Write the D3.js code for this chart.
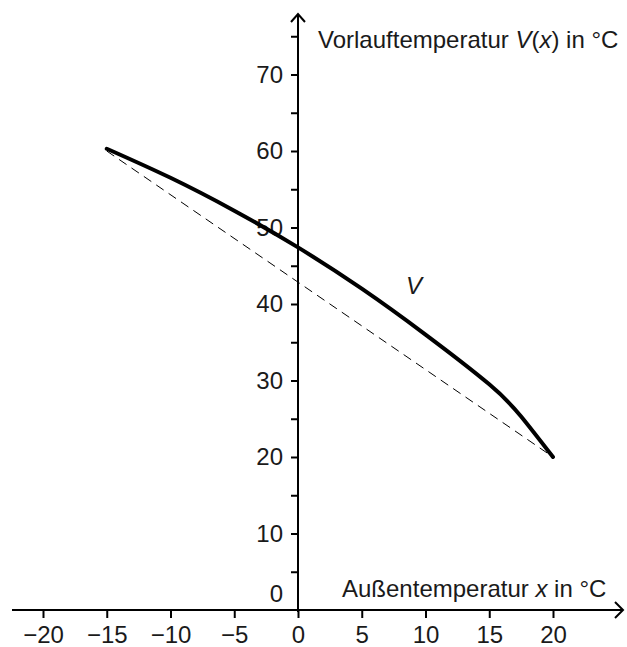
<!DOCTYPE html>
<html>
<head>
<meta charset="utf-8">
<script src="https://cdn.jsdelivr.net/npm/d3@7"></script>
<style>
  body { margin: 0; background: #fff; }
  svg { display: block; }
  text { font-family: "Liberation Sans", Arial, sans-serif; fill: #1a1a1a; }
</style>
</head>
<body>
<svg></svg>
<script>
// data
const curveX = [-15, -10, -5, 0, 5, 10, 15, 17.5, 20];
const curveV = [60.3, 56.5, 52.2, 47.4, 42.0, 36.0, 29.5, 25.3, 20];
const secantX = [-15, 20];
const secantV = [60, 20];
const xTicks = [-20, -15, -10, -5, 0, 5, 10, 15, 20];
const yTicks = [5, 10, 15, 20, 25, 30, 35, 40, 45, 50, 55, 60, 65, 70, 75];

const WIDTH = 627, HEIGHT = 647;
const FONT_SIZE = 24;

const svg = d3.select('svg').attr('width', WIDTH).attr('height', HEIGHT);

const x = d3.scaleLinear().domain([-20, 20]).range([43, 553]);
const y = d3.scaleLinear().domain([0, 70]).range([610, 74.5]);

// x axis ticks + labels
const xAxis = svg.append('g')
    .attr('transform', `translate(0,${y(0)})`)
    .call(d3.axisBottom(x).tickValues(xTicks).tickSize(8).tickPadding(8));
xAxis.select('.domain').remove();
xAxis.selectAll('line').attr('stroke', '#000').attr('stroke-width', 2);
xAxis.selectAll('text')
    .style('font-size', FONT_SIZE + 'px')
    .style('font-family', '"Liberation Sans", Arial, sans-serif')
    .attr('fill', '#1a1a1a');

// y axis ticks + labels
const yAxis = svg.append('g')
    .attr('transform', `translate(${x(0)},0)`)
    .call(d3.axisLeft(y).tickValues(yTicks).tickSize(7).tickPadding(8)
        .tickFormat(d => d % 10 === 0 ? d : ''));
yAxis.select('.domain').remove();
yAxis.selectAll('line').attr('stroke', '#000').attr('stroke-width', 2);
yAxis.selectAll('text')
    .style('font-size', FONT_SIZE + 'px')
    .style('font-family', '"Liberation Sans", Arial, sans-serif')
    .attr('fill', '#1a1a1a');

// lone "0" above the x axis
svg.append('text')
    .attr('x', x(0) - 15)
    .attr('y', y(0) - 8)
    .attr('text-anchor', 'end')
    .style('font-size', FONT_SIZE + 'px')
    .text('0');

// axis lines with open arrow heads
const axisGroup = svg.append('g').attr('stroke', '#000').attr('stroke-width', 2).attr('fill', 'none');
axisGroup.append('line')
    .attr('x1', 12).attr('x2', 623)
    .attr('y1', y(0)).attr('y2', y(0));
axisGroup.append('path')
    .attr('d', `M${623 - 8},${y(0) - 8} L623,${y(0)} L${623 - 8},${y(0) + 8}`);
axisGroup.append('line')
    .attr('x1', x(0)).attr('x2', x(0))
    .attr('y1', y(0) + 2).attr('y2', 14);
axisGroup.append('path')
    .attr('d', `M${x(0) - 7},${14 + 8} L${x(0)},14 L${x(0) + 7},${14 + 8}`);

// axis titles
const yTitle = svg.append('text')
    .attr('x', 318).attr('y', 48)
    .style('font-size', FONT_SIZE + 'px');
yTitle.append('tspan').text('Vorlauftemperatur ');
yTitle.append('tspan').style('font-style', 'italic').text('V');
yTitle.append('tspan').text('(');
yTitle.append('tspan').style('font-style', 'italic').text('x');
yTitle.append('tspan').text(') in °C');

const xTitle = svg.append('text')
    .attr('x', 342).attr('y', 597)
    .style('font-size', FONT_SIZE + 'px');
xTitle.append('tspan').text('Außentemperatur ');
xTitle.append('tspan').style('font-style', 'italic').text('x');
xTitle.append('tspan').text(' in °C');

// dashed secant
svg.append('path')
    .datum(secantX.map((d, i) => [d, secantV[i]]))
    .attr('d', d3.line().x(d => x(d[0])).y(d => y(d[1])))
    .attr('fill', 'none')
    .attr('stroke', '#000')
    .attr('stroke-width', 1)
    .attr('stroke-dasharray', '9,6');

// curve V
svg.append('path')
    .datum(curveX.map((d, i) => [d, curveV[i]]))
    .attr('d', d3.line().x(d => x(d[0])).y(d => y(d[1])).curve(d3.curveNatural))
    .attr('fill', 'none')
    .attr('stroke', '#000')
    .attr('stroke-width', 4)
    .attr('stroke-linecap', 'round');

svg.append('text')
    .attr('x', 406).attr('y', 294)
    .style('font-size', FONT_SIZE + 'px')
    .style('font-style', 'italic')
    .text('V');
</script>
</body>
</html>
